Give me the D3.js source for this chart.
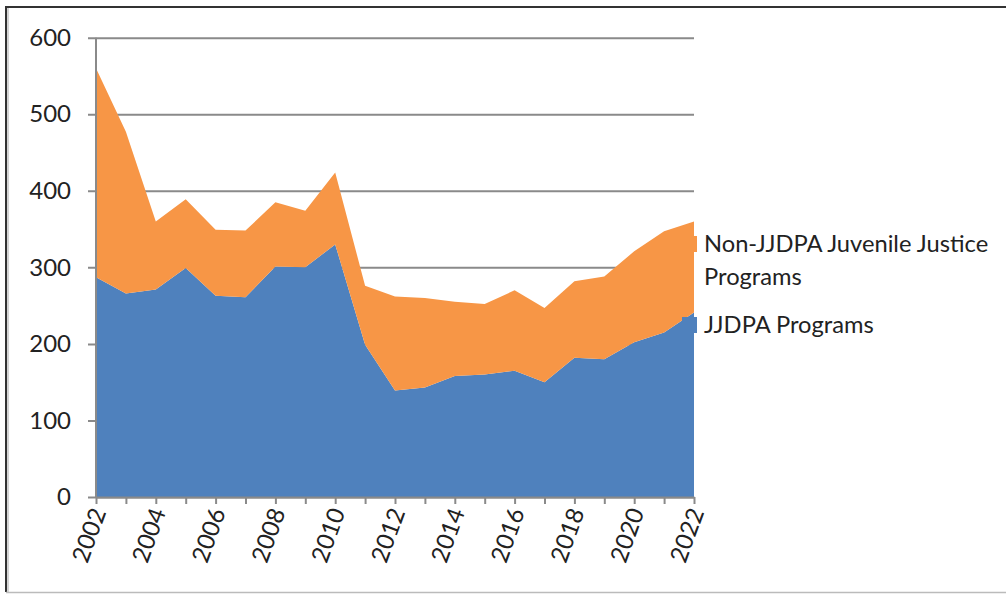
<!DOCTYPE html>
<html>
<head>
    <meta charset="utf-8">
    <script src="https://cdn.jsdelivr.net/npm/d3@7"></script>
    <style>
        body { margin: 0; background: #fff; }
        text { font-family: Lato, "Open Sans", sans-serif; fill: #222; }
    </style>
</head>
<body>
    <svg class="MainSvg"></svg>
<script>
    // data
    var years = [2002, 2003, 2004, 2005, 2006, 2007, 2008, 2009, 2010, 2011, 2012,
        2013, 2014, 2015, 2016, 2017, 2018, 2019, 2020, 2021, 2022];
    var jjdpa = [287, 266, 271, 299, 263, 261, 301, 300, 330, 199, 139,
        143, 158, 160, 165, 150, 182, 180, 202, 215, 241];
    var nonJjdpa = [273, 211, 89, 90, 86, 87, 84, 74, 94, 77, 123,
        117, 97, 92, 105, 97, 100, 108, 119, 132, 119];
    var yTicks = [0, 100, 200, 300, 400, 500, 600];
    var labelYears = [2002, 2004, 2006, 2008, 2010, 2012, 2014, 2016, 2018, 2020, 2022];
    var seriesNames = ["JJDPA Programs", "Non-JJDPA Juvenile Justice Programs"];
    var colors = ["#4F81BD", "#F79646"];

    var width = 1006, height = 594;
    var margin = { top: 37.7, right: 312, bottom: 97, left: 96 };

    var svg = d3.select(".MainSvg")
        .attr("width", width)
        .attr("height", height);

    // frame
    svg.append("line").attr("x1", 6).attr("x2", 1006).attr("y1", 7).attr("y2", 7)
        .attr("stroke", "#333").attr("stroke-width", 2);
    svg.append("line").attr("x1", 6).attr("x2", 6).attr("y1", 6).attr("y2", 592)
        .attr("stroke", "#333").attr("stroke-width", 2);
    svg.append("line").attr("x1", 8).attr("x2", 8).attr("y1", 8).attr("y2", 592)
        .attr("stroke", "#aaa").attr("stroke-width", 1);
    svg.append("line").attr("x1", 6).attr("x2", 1006).attr("y1", 592.5).attr("y2", 592.5)
        .attr("stroke", "#bbb").attr("stroke-width", 1.5);

    var x = d3.scaleLinear()
        .domain([2002, 2022])
        .range([margin.left, width - margin.right]);
    var y = d3.scaleLinear()
        .domain([0, 600])
        .range([height - margin.bottom, margin.top]);

    var rows = years.map(function (yr, i) {
        return { year: yr, jjdpa: jjdpa[i], non: nonJjdpa[i] };
    });
    var stack = d3.stack().keys(["jjdpa", "non"]);
    var layers = stack(rows);

    // gridlines + y axis
    var yAxis = d3.axisLeft(y)
        .tickValues(yTicks)
        .tickSize(-(x.range()[1] - x.range()[0]))
        .tickSizeOuter(0)
        .tickPadding(25);
    var gy = svg.append("g")
        .attr("transform", "translate(" + margin.left + ",0)")
        .call(yAxis);
    gy.select(".domain").remove();
    gy.selectAll(".tick line")
        .attr("x1", -8)
        .attr("stroke", "#8a8a8a").attr("stroke-width", 2);
    gy.selectAll(".tick text")
        .style("font-size", "24px")
        .attr("fill", "#222");

    var area = d3.area()
        .x(function (d) { return x(d.data.year); })
        .y0(function (d) { return y(d[0]); })
        .y1(function (d) { return y(d[1]); });

    svg.append("g").selectAll("path")
        .data(layers)
        .enter()
        .append("path")
        .attr("d", area)
        .attr("fill", function (d, i) { return colors[i]; });

    // y axis line
    svg.append("line")
        .attr("x1", margin.left).attr("x2", margin.left)
        .attr("y1", y(600)).attr("y2", y(0))
        .attr("stroke", "#8a8a8a").attr("stroke-width", 2);

    // x axis
    var xAxis = d3.axisBottom(x)
        .tickValues(years)
        .tickSize(7)
        .tickSizeOuter(0)
        .tickFormat(function (d) { return labelYears.indexOf(d) >= 0 ? d : ""; });
    var gx = svg.append("g")
        .attr("transform", "translate(0," + y(0) + ")")
        .call(xAxis);
    gx.select(".domain").attr("stroke", "#8a8a8a").attr("stroke-width", 2);
    gx.selectAll(".tick line").attr("stroke", "#8a8a8a").attr("stroke-width", 2);
    gx.selectAll(".tick text")
        .style("font-size", "24px")
        .attr("text-anchor", "end")
        .attr("fill", "#222")
        .attr("y", 0).attr("dy", "0.35em")
        .attr("transform", "translate(2,12) rotate(-70)");

    // legend
    var legend = [
        { name: seriesNames[1], lines: ["Non-JJDPA Juvenile Justice", "Programs"], color: colors[1], y: 244 },
        { name: seriesNames[0], lines: ["JJDPA Programs"], color: colors[0], y: 325 }
    ];
    var lg = svg.append("g").selectAll("g")
        .data(legend)
        .enter()
        .append("g");
    lg.append("rect")
        .attr("x", 682).attr("width", 15)
        .attr("y", function (d) { return d.y - 8; })
        .attr("height", 16)
        .attr("fill", function (d) { return d.color; });
    lg.append("text")
        .attr("x", 704)
        .attr("y", function (d) { return d.y; })
        .style("font-size", "23.7px")
        .selectAll("tspan")
        .data(function (d) { return d.lines; })
        .enter()
        .append("tspan")
        .attr("x", 704)
        .attr("dy", function (d, i) { return i === 0 ? "0.35em" : "1.4em"; })
        .text(function (d) { return d; });
</script>
</body>
</html>
